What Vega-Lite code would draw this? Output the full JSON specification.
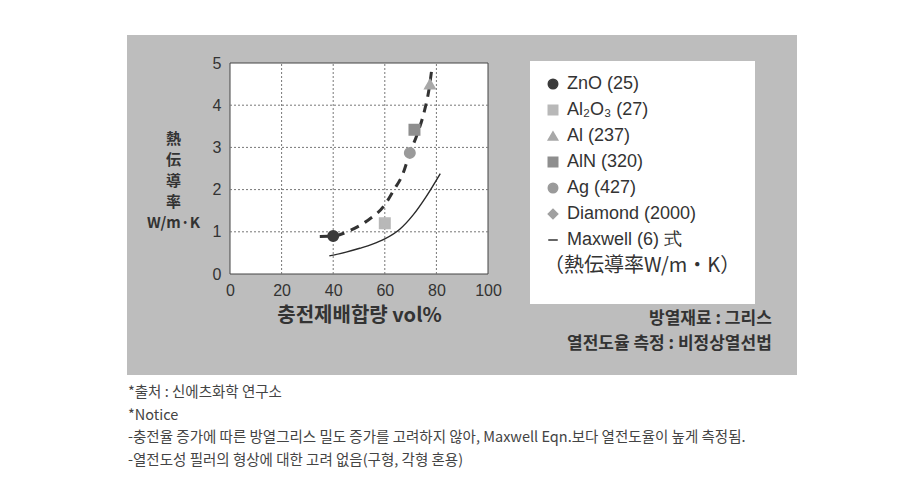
{
  "$schema": "https://vega.github.io/schema/vega-lite/v6.json",
  "width": 670,
  "height": 340,
  "autosize": {"type": "none"},
  "padding": {"left": 127, "top": 35, "right": 122, "bottom": 108},
  "background": "white",
  "view": {"fill": "#bdbdbd", "stroke": null},
  "title": {
    "text": ["*출처 : 신에츠화학 연구소", "*Notice", "-충전율 증가에 따른 방열그리스 밀도 증가를 고려하지 않아, Maxwell Eqn.보다 열전도율이 높게 측정됨.", "-열전도성 필러의 형상에 대한 고려 없음(구형, 각형 혼용)"],
    "orient": "bottom", "anchor": "start", "frame": "group", "offset": 11, "dx": 1,
    "font": "Noto Sans CJK KR", "fontSize": 14.5, "fontWeight": "normal", "color": "#444", "lineHeight": 22.5
  },
  "datasets": {
    "points": [
      {"material": "ZnO (25)", "vol": 40, "k": 0.9},
      {"material": "Al₂O₃ (27)", "vol": 60, "k": 1.2},
      {"material": "Ag (427)", "vol": 69.7, "k": 2.87},
      {"material": "AlN (320)", "vol": 71.5, "k": 3.42},
      {"material": "Al (237)", "vol": 77.5, "k": 4.5}
    ],
    "fit": [
      {"vol": 34.8, "k": 0.89}, {"vol": 40, "k": 0.9}, {"vol": 46.5, "k": 1.03}, {"vol": 52.9, "k": 1.25},
      {"vol": 60, "k": 1.64}, {"vol": 63.2, "k": 1.96}, {"vol": 67.1, "k": 2.39}, {"vol": 69.7, "k": 2.87},
      {"vol": 72.5, "k": 3.3}, {"vol": 75.5, "k": 3.9}, {"vol": 77.2, "k": 4.4}, {"vol": 78.2, "k": 4.85}
    ],
    "maxwell": [
      {"vol": 38.5, "k": 0.43}, {"vol": 45, "k": 0.52}, {"vol": 50.3, "k": 0.61}, {"vol": 55, "k": 0.7},
      {"vol": 60, "k": 0.83}, {"vol": 65.8, "k": 1.06}, {"vol": 71, "k": 1.4}, {"vol": 76.1, "k": 1.84}, {"vol": 81.5, "k": 2.38}
    ]
  },
  "layer": [
    {
      "data": {"values": [{"panel": "plot"}]},
      "mark": {"type": "rect", "fill": "white", "stroke": "#444", "strokeWidth": 1, "opacity": 1},
      "encoding": {
        "x": {"datum": 0, "type": "quantitative", "scale": {"domain": [0, 100], "range": [103, 361], "nice": false, "zero": false}},
        "x2": {"datum": 100},
        "y": {"datum": 0, "type": "quantitative", "scale": {"domain": [0, 5], "range": [239, 28], "nice": false, "zero": false}},
        "y2": {"datum": 5}
      }
    },
    {"data": {"values": [{"panel": "plot"}]}, "mark": {"type": "rule", "color": "#777", "strokeDash": [2, 2], "strokeWidth": 1},
     "encoding": {"x": {"datum": 20, "type": "quantitative"}, "y": {"datum": 0, "type": "quantitative"}, "y2": {"datum": 5}}},
    {"data": {"values": [{"panel": "plot"}]}, "mark": {"type": "rule", "color": "#777", "strokeDash": [2, 2], "strokeWidth": 1},
     "encoding": {"x": {"datum": 40, "type": "quantitative"}, "y": {"datum": 0, "type": "quantitative"}, "y2": {"datum": 5}}},
    {"data": {"values": [{"panel": "plot"}]}, "mark": {"type": "rule", "color": "#777", "strokeDash": [2, 2], "strokeWidth": 1},
     "encoding": {"x": {"datum": 60, "type": "quantitative"}, "y": {"datum": 0, "type": "quantitative"}, "y2": {"datum": 5}}},
    {"data": {"values": [{"panel": "plot"}]}, "mark": {"type": "rule", "color": "#777", "strokeDash": [2, 2], "strokeWidth": 1},
     "encoding": {"x": {"datum": 80, "type": "quantitative"}, "y": {"datum": 0, "type": "quantitative"}, "y2": {"datum": 5}}},
    {"data": {"values": [{"panel": "plot"}]}, "mark": {"type": "rule", "color": "#777", "strokeDash": [2, 2], "strokeWidth": 1},
     "encoding": {"y": {"datum": 1, "type": "quantitative"}, "x": {"datum": 0, "type": "quantitative"}, "x2": {"datum": 100}}},
    {"data": {"values": [{"panel": "plot"}]}, "mark": {"type": "rule", "color": "#777", "strokeDash": [2, 2], "strokeWidth": 1},
     "encoding": {"y": {"datum": 2, "type": "quantitative"}, "x": {"datum": 0, "type": "quantitative"}, "x2": {"datum": 100}}},
    {"data": {"values": [{"panel": "plot"}]}, "mark": {"type": "rule", "color": "#777", "strokeDash": [2, 2], "strokeWidth": 1},
     "encoding": {"y": {"datum": 3, "type": "quantitative"}, "x": {"datum": 0, "type": "quantitative"}, "x2": {"datum": 100}}},
    {"data": {"values": [{"panel": "plot"}]}, "mark": {"type": "rule", "color": "#777", "strokeDash": [2, 2], "strokeWidth": 1},
     "encoding": {"y": {"datum": 4, "type": "quantitative"}, "x": {"datum": 0, "type": "quantitative"}, "x2": {"datum": 100}}},
    {
      "data": {"name": "maxwell"},
      "mark": {"type": "line", "color": "#2a2a2a", "strokeWidth": 1.4, "interpolate": "monotone"},
      "encoding": {"x": {"field": "vol", "type": "quantitative"}, "y": {"field": "k", "type": "quantitative"}}
    },
    {
      "data": {"name": "fit"},
      "mark": {"type": "line", "color": "#333", "strokeWidth": 3, "strokeDash": [9, 7], "interpolate": "monotone"},
      "encoding": {"x": {"field": "vol", "type": "quantitative"}, "y": {"field": "k", "type": "quantitative"}}
    },
    {
      "data": {"name": "points"},
      "mark": {"type": "point", "filled": true, "size": 110, "opacity": 1, "strokeWidth": 1.5},
      "encoding": {
        "x": {
          "field": "vol", "type": "quantitative",
          "axis": {
            "orient": "bottom", "offset": -101, "values": [0, 20, 40, 60, 80, 100], "format": "d",
            "domain": false, "ticks": false, "grid": false,
            "labelFont": "Liberation Sans", "labelFontSize": 16, "labelColor": "#333", "labelPadding": 8, "labelFlush": false,
            "title": "충전제배합량 vol%", "titleFont": "Noto Sans CJK KR", "titleFontSize": 20, "titleFontWeight": "bold",
            "titleColor": "#333", "titlePadding": 7
          }
        },
        "y": {
          "field": "k", "type": "quantitative",
          "axis": {
            "orient": "left", "offset": -103, "values": [0, 1, 2, 3, 4, 5], "format": "d",
            "domain": false, "ticks": false, "grid": false,
            "labelFont": "Liberation Sans", "labelFontSize": 16, "labelColor": "#333", "labelPadding": 9, "labelFlush": false,
            "title": ["熱", "伝", "導", "率", "W/m·K"], "titleFont": "Noto Sans CJK JP", "titleFontSize": 15, "titleFontWeight": "bold",
            "titleColor": "#333", "titleAngle": 0, "titleAlign": "center", "titleBaseline": "top", "titleLineHeight": 21,
            "titleX": -57, "titleY": 96
          }
        },
        "color": {
          "field": "material", "type": "nominal",
          "scale": {
            "domain": ["ZnO (25)", "Al₂O₃ (27)", "Al (237)", "AlN (320)", "Ag (427)", "Diamond (2000)", "Maxwell (6) 式"],
            "range": ["#3a3a3a", "#b8b8b8", "#a8a8a8", "#8e8e8e", "#9a9a9a", "#a0a0a0", "#333333"]
          },
          "legend": {
            "orient": "none", "legendX": 403, "legendY": 26, "fillColor": "white", "padding": 14,
            "title": ["（熱伝導率W/m・K）", ""], "titleOrient": "bottom", "titleAnchor": "start", "titleLimit": 400,
            "titleFont": "Noto Sans CJK JP", "titleFontSize": 20, "titleFontWeight": "normal", "titleColor": "#333",
            "titleLineHeight": 14, "titlePadding": 7,
            "labelFont": "Liberation Sans", "labelFontSize": 18, "labelColor": "#333", "labelOffset": 5,
            "rowPadding": 8, "symbolSize": 90,
            "encode": {"title": {"update": {"dx": {"value": 24}}}}
          }
        },
        "stroke": {
          "field": "material", "type": "nominal",
          "scale": {
            "domain": ["ZnO (25)", "Al₂O₃ (27)", "Al (237)", "AlN (320)", "Ag (427)", "Diamond (2000)", "Maxwell (6) 式"],
            "range": ["#3a3a3a", "#b8b8b8", "#a8a8a8", "#8e8e8e", "#9a9a9a", "#a0a0a0", "#333333"]
          },
          "legend": {
            "orient": "none", "legendX": 403, "legendY": 26, "fillColor": "white", "padding": 14,
            "title": ["（熱伝導率W/m・K）", ""], "titleOrient": "bottom", "titleAnchor": "start", "titleLimit": 400,
            "titleFont": "Noto Sans CJK JP", "titleFontSize": 20, "titleFontWeight": "normal", "titleColor": "#333",
            "titleLineHeight": 14, "titlePadding": 7,
            "labelFont": "Liberation Sans", "labelFontSize": 18, "labelColor": "#333", "labelOffset": 5,
            "rowPadding": 8, "symbolSize": 90,
            "encode": {"title": {"update": {"dx": {"value": 24}}}}
          }
        },
        "shape": {
          "field": "material", "type": "nominal",
          "scale": {
            "domain": ["ZnO (25)", "Al₂O₃ (27)", "Al (237)", "AlN (320)", "Ag (427)", "Diamond (2000)", "Maxwell (6) 式"],
            "range": ["circle", "square", "triangle-up", "square", "circle", "diamond", "stroke"]
          },
          "legend": {
            "orient": "none", "legendX": 403, "legendY": 26, "fillColor": "white", "padding": 14,
            "title": ["（熱伝導率W/m・K）", ""], "titleOrient": "bottom", "titleAnchor": "start", "titleLimit": 400,
            "titleFont": "Noto Sans CJK JP", "titleFontSize": 20, "titleFontWeight": "normal", "titleColor": "#333",
            "titleLineHeight": 14, "titlePadding": 7,
            "labelFont": "Liberation Sans", "labelFontSize": 18, "labelColor": "#333", "labelOffset": 5,
            "rowPadding": 8, "symbolSize": 90,
            "encode": {"title": {"update": {"dx": {"value": 24}}}}
          }
        }
      }
    },
    {
      "data": {"values": [{"note": ["방열재료 : 그리스", "열전도율 측정 : 비정상열선법"]}]},
      "mark": {"type": "text", "align": "right", "baseline": "top", "font": "Noto Sans CJK KR", "fontSize": 17, "fontWeight": "bold", "color": "#333", "lineHeight": 25},
      "encoding": {"x": {"datum": 210, "type": "quantitative"}, "y": {"datum": -0.88, "type": "quantitative"}, "text": {"field": "note"}}
    }
  ]
}
